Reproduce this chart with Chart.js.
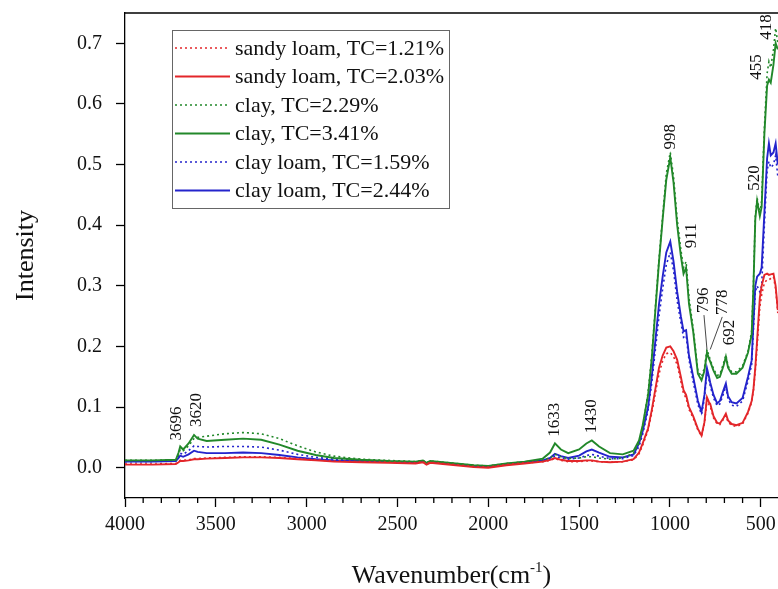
<!DOCTYPE html>
<html>
<head>
<meta charset="utf-8">
<script src="https://cdn.jsdelivr.net/npm/chart.js@4/dist/chart.umd.min.js"></script>
<style>
  html, body { margin: 0; padding: 0; background: #fff; }
  #wrap { width: 778px; height: 589px; }
</style>
</head>
<body>
<div id="wrap"><canvas id="ftirChart" width="778" height="589"></canvas></div>
<script>
// wavenumber grid (cm-1), shared by all spectra
var wavenumbers = [4000, 3850, 3720, 3705, 3696, 3680, 3650, 3620, 3600, 3550,
    3450, 3350, 3250, 3150, 3050, 2950, 2850, 2700, 2550, 2400,
    2360, 2340, 2320, 2250, 2150, 2080, 2000, 1900, 1800, 1700,
    1660, 1633, 1600, 1560, 1500, 1460, 1430, 1390, 1330, 1260,
    1200, 1170, 1150, 1120, 1100, 1080, 1060, 1040, 1020, 998,
    980, 960, 940, 925, 911, 895, 872, 846, 826, 810,
    796, 785, 778, 760, 740, 725, 705, 692, 680, 660,
    634, 600, 570, 550, 540, 530, 520, 505, 495, 480,
    465, 455, 445, 430, 418, 406];

var sandyLoam121 = [.006, .006, .007, .010, .012, .012, .013, .015, .015, .016,
    .017, .018, .018, .017, .015, .013, .011, .010, .009, .008,
    .010, .006, .009, .007, .004, .002, .001, .005, .008, .010,
    .012, .015, .012, .010, .010, .011, .011, .010, .009, .010,
    .013, .023, .037, .062, .090, .123, .155, .176, .188, .190,
    .183, .170, .143, .122, .115, .096, .082, .062, .052, .073,
    .112, .104, .101, .082, .072, .071, .080, .086, .075, .070,
    .068, .072, .090, .108, .128, .160, .200, .265, .285, .305,
    .310, .310, .312, .315, .295, .255];

var sandyLoam203 = [.005, .005, .006, .009, .011, .011, .012, .014, .014, .015,
    .016, .017, .017, .016, .014, .012, .010, .009, .008, .007,
    .009, .005, .008, .006, .003, .001, .000, .004, .007, .010,
    .013, .016, .013, .011, .011, .012, .012, .010, .009, .010,
    .014, .025, .040, .065, .095, .130, .165, .185, .198, .200,
    .192, .178, .150, .128, .120, .100, .085, .064, .053, .075,
    .116, .108, .105, .085, .074, .073, .082, .089, .078, .072,
    .070, .074, .092, .110, .130, .165, .210, .280, .300, .318,
    .320, .318, .319, .320, .300, .260];

var clay229 = [.012, .012, .013, .022, .030, .028, .036, .048, .050, .052,
    .056, .058, .056, .048, .036, .026, .019, .014, .012, .010,
    .012, .008, .011, .009, .006, .004, .003, .007, .010, .013,
    .016, .022, .018, .015, .016, .018, .018, .016, .014, .016,
    .024, .040, .065, .125, .185, .265, .345, .415, .485, .520,
    .480, .410, .360, .330, .340, .280, .230, .160, .150, .165,
    .195, .185, .178, .163, .152, .154, .172, .186, .168, .158,
    .158, .168, .192, .225, .305, .415, .445, .420, .440, .560,
    .650, .670, .660, .690, .725, .700];

var clay341 = [.012, .012, .013, .025, .035, .030, .040, .054, .048, .044,
    .046, .048, .046, .038, .028, .021, .016, .013, .011, .010,
    .012, .008, .011, .009, .006, .004, .003, .007, .010, .015,
    .025, .040, .030, .024, .030, .040, .045, .035, .024, .022,
    .028, .045, .070, .120, .180, .260, .340, .410, .475, .512,
    .470, .400, .350, .320, .330, .270, .225, .155, .144, .160,
    .190, .180, .175, .160, .148, .150, .168, .183, .165, .155,
    .155, .165, .190, .220, .300, .410, .440, .415, .430, .550,
    .630, .640, .635, .665, .700, .690];

var clayLoam159 = [.010, .010, .011, .018, .024, .022, .028, .036, .035, .034,
    .035, .035, .034, .029, .022, .017, .014, .012, .010, .009,
    .011, .007, .010, .008, .005, .003, .002, .006, .009, .011,
    .014, .019, .016, .014, .016, .020, .022, .019, .015, .015,
    .020, .035, .055, .095, .140, .195, .250, .295, .335, .355,
    .325, .275, .240, .215, .218, .178, .142, .104, .088, .114,
    .158, .145, .135, .115, .102, .105, .122, .134, .113, .103,
    .101, .110, .143, .170, .230, .290, .300, .290, .300, .400,
    .490, .505, .495, .500, .515, .480];

var clayLoam244 = [.010, .010, .011, .016, .020, .018, .022, .028, .026, .024,
    .024, .025, .024, .021, .017, .014, .012, .011, .010, .009,
    .011, .007, .010, .008, .005, .003, .002, .006, .009, .012,
    .016, .023, .019, .016, .020, .027, .030, .025, .018, .017,
    .022, .040, .060, .100, .150, .210, .270, .315, .355, .373,
    .340, .290, .250, .225, .227, .185, .150, .110, .092, .120,
    .164, .150, .140, .120, .106, .110, .128, .139, .118, .108,
    .106, .115, .150, .177, .240, .300, .315, .320, .330, .420,
    .510, .535, .515, .520, .535, .500];

var xTicks = [4000, 3500, 3000, 2500, 2000, 1500, 1000, 500];
var yTicks = [0.0, 0.1, 0.2, 0.3, 0.4, 0.5, 0.6, 0.7];

// peak labels: wavenumber, bottom of text (in intensity units), x nudge in px
var peakLabels = [
    { wn: 3696, level: 0.045, dx: -4 },
    { wn: 3620, level: 0.067, dx: 3 },
    { wn: 1633, level: 0.051, dx: 0 },
    { wn: 1430, level: 0.057, dx: 0 },
    { wn: 998, level: 0.525, dx: 0 },
    { wn: 911, level: 0.362, dx: 5 },
    { wn: 796, level: 0.255, dx: -3, lead: 0.195 },
    { wn: 778, level: 0.252, dx: 12, lead: 0.195 },
    { wn: 692, level: 0.202, dx: 4 },
    { wn: 520, level: 0.457, dx: -3 },
    { wn: 455, level: 0.640, dx: -12 },
    { wn: 418, level: 0.706, dx: -9 }
];

var FONT = 'Liberation Serif, Times New Roman, serif';
var RED = '#e3262a', GREEN = '#22882a', BLUE = '#2424cc';

function toPoints(values) {
    return wavenumbers.map(function (w, i) { return { x: w, y: values[i] }; });
}

function series(label, values, color, dotted) {
    return {
        label: label,
        data: toPoints(values),
        borderColor: color,
        backgroundColor: color,
        borderWidth: dotted ? 1.6 : 1.9,
        borderDash: dotted ? [2, 3] : [],
        pointRadius: 0,
        fill: false,
        tension: 0
    };
}

var extras = {
    id: 'extras',
    afterDraw: function (chart) {
        var ctx = chart.ctx, a = chart.chartArea;
        var xs = chart.scales.x, ys = chart.scales.y;
        ctx.save();

        // frame top line and minor x ticks
        ctx.strokeStyle = '#000';
        ctx.lineWidth = 1.3;
        ctx.beginPath();
        ctx.moveTo(a.left, a.top);
        ctx.lineTo(a.right, a.top);
        for (var w = 600; w < 4000; w += 100) {
            if (w % 500 === 0) continue;
            var px = xs.getPixelForValue(w);
            ctx.moveTo(px, a.bottom);
            ctx.lineTo(px, a.bottom + 5);
        }
        ctx.stroke();

        // peak labels
        ctx.fillStyle = '#111';
        ctx.font = '17px ' + FONT;
        ctx.textAlign = 'left';
        ctx.textBaseline = 'middle';
        peakLabels.forEach(function (p) {
            var x = xs.getPixelForValue(p.wn) + p.dx;
            var y = ys.getPixelForValue(p.level);
            ctx.save();
            ctx.translate(x, y);
            ctx.rotate(-Math.PI / 2);
            ctx.fillText(String(p.wn), 0, 0);
            ctx.restore();
            if (p.lead) {
                ctx.strokeStyle = '#333';
                ctx.lineWidth = 0.9;
                ctx.beginPath();
                ctx.moveTo(x, y + 2);
                ctx.lineTo(xs.getPixelForValue(p.wn), ys.getPixelForValue(p.lead));
                ctx.stroke();
            }
        });

        // legend box
        var lx = 172, ly = 30, lw = 277, lh = 178, row = 28.5;
        ctx.strokeStyle = '#666';
        ctx.lineWidth = 1;
        ctx.fillStyle = '#fff';
        ctx.fillRect(lx, ly, lw, lh);
        ctx.strokeRect(lx + 0.5, ly + 0.5, lw, lh);
        ctx.font = '22px ' + FONT;
        ctx.textAlign = 'left';
        ctx.textBaseline = 'middle';
        chart.data.datasets.forEach(function (ds, i) {
            var cy = ly + 18 + i * row;
            ctx.strokeStyle = ds.borderColor;
            ctx.lineWidth = ds.borderWidth;
            ctx.setLineDash(ds.borderDash);
            ctx.beginPath();
            ctx.moveTo(lx + 3, cy);
            ctx.lineTo(lx + 58, cy);
            ctx.stroke();
            ctx.setLineDash([]);
            ctx.fillStyle = '#111';
            ctx.fillText(ds.label, lx + 63, cy + 1);
        });

        // axis titles
        ctx.fillStyle = '#111';
        ctx.font = '26px ' + FONT;
        ctx.save();
        ctx.translate(26, (a.top + a.bottom) / 2);
        ctx.rotate(-Math.PI / 2);
        ctx.textAlign = 'center';
        ctx.fillText('Intensity', 0, 0);
        ctx.restore();

        var main = 'Wavenumber(cm', sup = '-1', tail = ')';
        ctx.font = '26px ' + FONT;
        var w1 = ctx.measureText(main).width, w3 = ctx.measureText(tail).width;
        ctx.font = '15px ' + FONT;
        var w2 = ctx.measureText(sup).width;
        var sx = (a.left + a.right) / 2 - (w1 + w2 + w3) / 2, by = 583;
        ctx.textAlign = 'left';
        ctx.textBaseline = 'alphabetic';
        ctx.font = '26px ' + FONT;
        ctx.fillText(main, sx, by);
        ctx.font = '15px ' + FONT;
        ctx.fillText(sup, sx + w1, by - 11);
        ctx.font = '26px ' + FONT;
        ctx.fillText(tail, sx + w1 + w2, by);
        ctx.restore();
    }
};

var ctx = document.getElementById('ftirChart').getContext('2d');

var ftirChart = new Chart(ctx, {
    type: 'line',
    data: {
        datasets: [
            series('sandy loam, TC=1.21%', sandyLoam121, RED, true),
            series('sandy loam, TC=2.03%', sandyLoam203, RED, false),
            series('clay, TC=2.29%', clay229, GREEN, true),
            series('clay, TC=3.41%', clay341, GREEN, false),
            series('clay loam, TC=1.59%', clayLoam159, BLUE, true),
            series('clay loam, TC=2.44%', clayLoam244, BLUE, false)
        ]
    },
    options: {
        responsive: false,
        animation: false,
        devicePixelRatio: 1,
        layout: { padding: { top: 13, right: 0, left: 0, bottom: 0 } },
        plugins: {
            legend: { display: false },
            tooltip: { enabled: false }
        },
        scales: {
            x: {
                type: 'linear',
                reverse: true,
                min: 405,
                max: 4000,
                afterBuildTicks: function (scale) {
                    scale.ticks = xTicks.map(function (v) { return { value: v }; });
                },
                afterFit: function (scale) {
                    scale.height = 91;
                    scale.paddingLeft = 0;
                    scale.paddingRight = 0;
                },
                ticks: {
                    color: '#111',
                    font: { family: FONT, size: 20 },
                    padding: 6,
                    maxRotation: 0,
                    callback: function (v) { return String(v); }
                },
                grid: {
                    drawOnChartArea: false,
                    tickLength: 9,
                    tickColor: '#000',
                    tickWidth: 1.3
                },
                border: { display: true, color: '#000', width: 1.3 }
            },
            y: {
                min: -0.05,
                max: 0.75,
                afterBuildTicks: function (scale) {
                    scale.ticks = yTicks.map(function (v) { return { value: v }; });
                },
                afterFit: function (scale) {
                    scale.width = 125;
                    scale.paddingTop = 0;
                    scale.paddingBottom = 0;
                },
                ticks: {
                    color: '#111',
                    font: { family: FONT, size: 20 },
                    padding: 14,
                    callback: function (v) { return v.toFixed(1); }
                },
                grid: {
                    drawOnChartArea: false,
                    tickLength: 9,
                    tickColor: '#000',
                    tickWidth: 1.3
                },
                border: { display: true, color: '#000', width: 1.3 }
            }
        }
    },
    plugins: [extras]
});
</script>
</body>
</html>
